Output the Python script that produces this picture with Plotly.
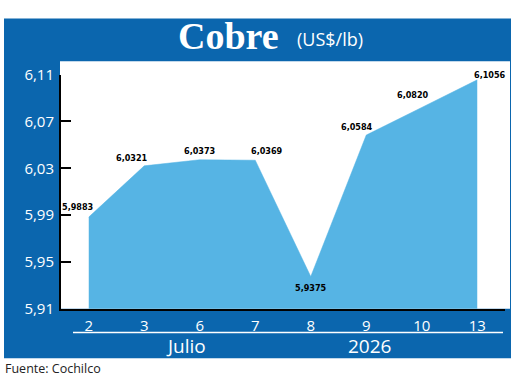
import plotly.graph_objects as go

# ---- data ----
days = ["2", "3", "6", "7", "8", "9", "10", "13"]
prices = [5.9883, 6.0321, 6.0373, 6.0369, 5.9375, 6.0584, 6.0820, 6.1056]
y_ticks = [5.91, 5.95, 5.99, 6.03, 6.07, 6.11]
y_tick_text = ["5,91", "5,95", "5,99", "6,03", "6,07", "6,11"]
month_label = "Julio"
year_label = "2026"
title_main = "Cobre"
title_unit = "(US$/lb)"
source = "Fuente: Cochilco"

# ---- style ----
W, H = 520, 388
BLUE = "#0b66ae"
AREA = "#56b4e4"
label_shift = [(-11, 10), (-12, 8), (0, 9), (12, 9), (0, -11), (-9, 8), (-9, 12), (13, 5)]

def px(x):
    return x / W

def py(y):
    return 1 - y / H

xpos = list(range(len(days)))

fig = go.Figure()
fig.add_trace(go.Scatter(
    x=xpos, y=prices, mode="lines", fill="tozeroy",
    line=dict(color=AREA, width=0.5), fillcolor=AREA,
    hoverinfo="skip", showlegend=False,
))

shapes = [
    dict(type="rect", xref="paper", yref="paper", x0=px(4), x1=px(511), y0=py(366), y1=py(8),
         fillcolor=BLUE, line=dict(width=0), layer="below"),
    dict(type="rect", xref="paper", yref="paper", x0=px(60), x1=px(510), y0=py(314), y1=py(53),
         fillcolor="white", line=dict(width=0), layer="below"),
    dict(type="line", xref="paper", yref="paper", x0=px(73), x1=px(503), y0=py(339), y1=py(339),
         line=dict(color="white", width=1.5), layer="above"),
]

annotations = []
for i, v in enumerate(prices):
    dx, dy = label_shift[i]
    annotations.append(dict(
        x=xpos[i], y=v, xref="x", yref="y", text=f"{v:.4f}".replace(".", ","),
        showarrow=False, xshift=dx, yshift=dy,
        font=dict(family="DejaVu Sans Condensed, Liberation Sans Narrow, sans-serif",
                  size=9, color="black", weight="bold"),
    ))

annotations += [
    dict(x=px(228), y=py(26), xref="paper", yref="paper", text=f"<b>{title_main}</b>",
         showarrow=False, xanchor="center", yanchor="middle",
         font=dict(family="Liberation Serif, DejaVu Serif, serif", size=38, color="white")),
    dict(x=px(295), y=py(30), xref="paper", yref="paper", text=title_unit,
         showarrow=False, xanchor="left", yanchor="middle",
         font=dict(family="Open Sans, sans-serif", size=18, color="white")),
    dict(x=px(186), y=py(353), xref="paper", yref="paper", text=month_label,
         showarrow=False, xanchor="center", yanchor="middle",
         font=dict(family="Open Sans, sans-serif", size=19, color="white")),
    dict(x=px(369), y=py(353), xref="paper", yref="paper", text=year_label,
         showarrow=False, xanchor="center", yanchor="middle",
         font=dict(family="Open Sans, sans-serif", size=19, color="white")),
    dict(x=px(3), y=py(377), xref="paper", yref="paper", text=source,
         showarrow=False, xanchor="left", yanchor="middle",
         font=dict(family="Open Sans, sans-serif", size=12.5, color="#222222")),
]

fig.update_layout(
    width=W, height=H, autosize=False,
    margin=dict(l=0, r=0, t=0, b=0),
    paper_bgcolor="white", plot_bgcolor="rgba(0,0,0,0)",
    shapes=shapes, annotations=annotations, showlegend=False,
    xaxis=dict(
        range=[-0.5, 7.5], domain=[px(61), px(505)],
        tickvals=xpos, ticktext=days,
        showline=True, linecolor="black", linewidth=2,
        ticks="", showgrid=False, zeroline=False, fixedrange=True,
        tickfont=dict(family="Open Sans, sans-serif", size=15, color="white"),
        ticklabelstandoff=2,
    ),
    yaxis=dict(
        range=[5.9099, 6.1101], domain=[py(314), py(67)],
        tickvals=y_ticks, ticktext=y_tick_text,
        ticks="inside", ticklen=10, tickwidth=2, tickcolor="black",
        showline=True, linecolor="black", linewidth=2,
        showgrid=False, zeroline=False, fixedrange=True,
        tickfont=dict(family="Open Sans, sans-serif", size=15, color="white"),
        ticklabelstandoff=2,
    ),
)

fig.write_html("out.html")
